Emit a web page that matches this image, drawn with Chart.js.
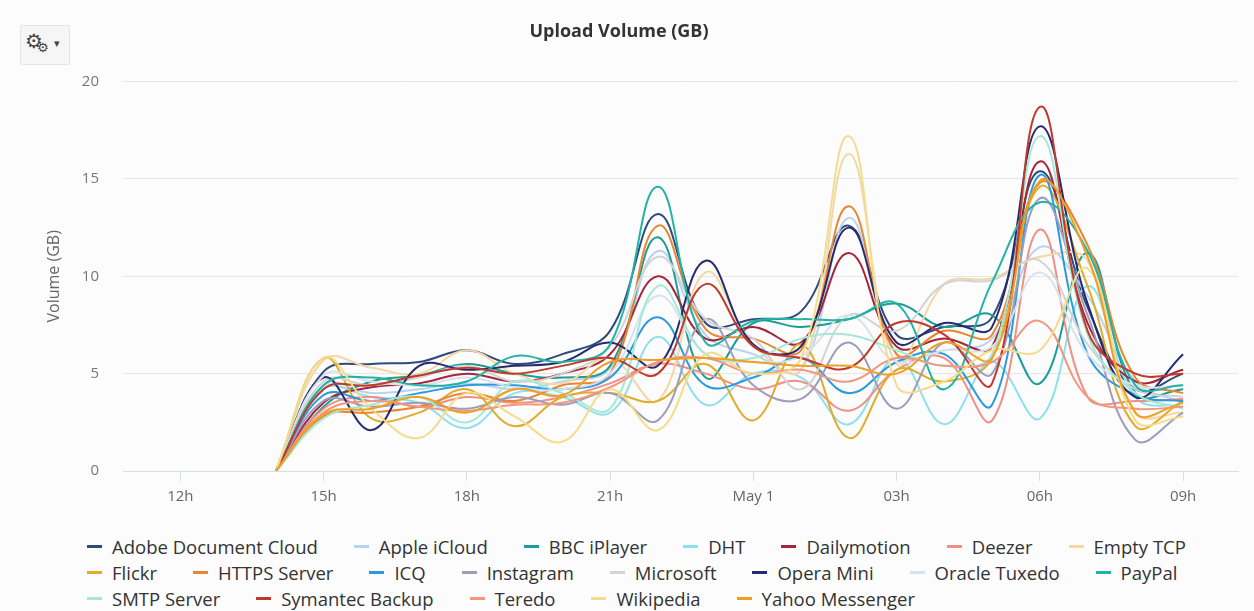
<!DOCTYPE html>
<html>
<head>
<meta charset="utf-8">
<title>Upload Volume (GB)</title>
<script src="https://cdn.jsdelivr.net/npm/chart.js@4.4.1/dist/chart.umd.min.js"></script>
<style>
  html, body { margin: 0; padding: 0; background: #fcfcfc; }
  #wrap { position: relative; width: 1254px; height: 611px; overflow: hidden; }
  #chartBox { position: absolute; left: 0; top: 0; width: 1254px; height: 513px; }
  #legend {
    position: absolute; left: 87px; top: 533px; width: 1165px;
    display: flex; flex-wrap: wrap;
    font-family: "Open Sans", sans-serif; font-size: 18.5px; color: #333;
  }
  #legend .item { display: flex; align-items: center; height: 26px; margin-right: 36px; white-space: nowrap; }
  #legend .dash { width: 15px; height: 3px; margin-right: 10px; }
  #opts {
    position: absolute; left: 20px; top: 25px; width: 48px; height: 38px;
    background: #f6f6f6; border: 1px solid #e4e4e4; border-radius: 2px;
    font-family: "DejaVu Sans", sans-serif; color: #444;
  }
  #opts .g1 { position: absolute; left: 4px; top: 3px; font-size: 20px; }
  #opts .g2 { position: absolute; left: 16px; top: 14px; font-size: 13px; }
  #opts .caret { position: absolute; left: 33px; top: 11px; font-size: 11px; }
</style>
</head>
<body>
<div id="wrap">
  <div id="chartBox"><canvas id="uploadChart"></canvas></div>
  <div id="opts"><span class="g1">⚙</span><span class="g2">⚙</span><span class="caret">▾</span></div>
  <div id="legend"></div>
</div>
<script>
// hours since midnight of Apr 30 (24 = May 1 00h)
const hours = [14, 15, 16, 17, 18, 19, 20, 21, 22, 23, 24, 25, 26, 27, 28, 29, 30, 31, 32, 33];
const tickHours = [12, 15, 18, 21, 24, 27, 30, 33];
const tickLabels = ['12h', '15h', '18h', '21h', 'May 1', '03h', '06h', '09h'];
const yTicks = [0, 5, 10, 15, 20];

const seriesNames = [
  'Adobe Document Cloud', 'Apple iCloud', 'BBC iPlayer', 'DHT', 'Dailymotion', 'Deezer', 'Empty TCP',
  'Flickr', 'HTTPS Server', 'ICQ', 'Instagram', 'Microsoft', 'Opera Mini', 'Oracle Tuxedo', 'PayPal',
  'SMTP Server', 'Symantec Backup', 'Teredo', 'Wikipedia', 'Yahoo Messenger'
];
const seriesColors = [
  '#2f4b7c', '#b9d3ee', '#1b9e94', '#8fe0ee', '#a3263a', '#ef8f85', '#f3d7a6',
  '#e3ab2a', '#ea8530', '#2b99de', '#9c9cbc', '#d3d3d3', '#262a6e', '#d9e2ec', '#22b3a4',
  '#a5e8d6', '#c0392b', '#f2967e', '#f5dc8d', '#eda024'
];

const adobeDocumentCloud = [0, 5.1, 5.5, 5.6, 6.2, 5.5, 6.0, 7.2, 13.2, 7.6, 7.8, 8.2, 12.6, 7.0, 7.4, 7.9, 15.4, 8.4, 4.2, 5.0];
const appleICloud        = [0, 4.4, 4.0, 4.2, 4.5, 4.2, 4.6, 5.3, 11.3, 7.0, 6.0, 5.2, 13.0, 6.0, 6.2, 6.8, 11.5, 9.0, 4.6, 3.5];
const bbcIPlayer         = [0, 3.3, 4.6, 4.9, 5.5, 5.0, 4.8, 5.4, 12.0, 4.8, 7.6, 7.4, 7.8, 8.6, 7.4, 8.0, 4.5, 11.2, 4.0, 4.2];
const dht                = [0, 4.2, 3.8, 3.5, 2.2, 4.0, 3.8, 3.0, 6.9, 3.4, 5.0, 4.8, 2.4, 5.8, 2.4, 5.6, 2.7, 9.5, 3.8, 3.3];
const dailymotion        = [0, 3.5, 4.3, 4.5, 5.0, 4.6, 5.0, 6.0, 10.0, 6.8, 7.4, 6.6, 11.2, 6.4, 6.8, 6.4, 15.9, 7.6, 4.6, 5.2];
const deezer             = [0, 3.2, 3.8, 3.3, 3.8, 3.5, 3.8, 4.5, 5.5, 5.0, 4.2, 4.6, 3.1, 5.2, 5.8, 2.6, 12.4, 3.8, 3.6, 3.7];
const emptyTcp           = [0, 5.7, 5.3, 5.0, 6.2, 5.0, 4.5, 5.8, 3.6, 10.2, 6.5, 5.2, 16.3, 5.5, 9.6, 9.9, 11.0, 10.8, 3.0, 3.0];
const flickr             = [0, 5.8, 2.7, 3.0, 4.2, 2.3, 3.8, 4.0, 3.6, 5.5, 2.6, 6.5, 1.7, 5.2, 4.6, 5.8, 14.6, 9.5, 2.3, 3.6];
const httpsServer        = [0, 2.8, 3.0, 3.3, 4.0, 3.6, 4.4, 5.0, 12.6, 7.3, 6.8, 6.2, 13.6, 6.0, 7.2, 7.0, 14.8, 11.6, 4.8, 4.0];
const icq                = [0, 3.9, 3.6, 4.0, 4.4, 4.4, 4.2, 4.8, 7.9, 4.4, 4.8, 5.8, 4.0, 5.6, 6.0, 3.4, 15.2, 6.0, 3.9, 3.6];
const instagram          = [0, 3.6, 3.3, 3.5, 3.2, 3.8, 3.4, 4.0, 2.6, 7.8, 4.4, 3.7, 6.6, 3.2, 6.6, 5.0, 14.0, 8.0, 1.6, 3.0];
const microsoft          = [0, 4.6, 4.4, 4.8, 5.4, 4.6, 5.0, 6.4, 11.0, 7.8, 6.8, 4.2, 8.0, 7.2, 9.6, 9.8, 10.8, 6.5, 4.2, 3.8];
const operaMini          = [0, 4.8, 2.1, 5.4, 5.2, 5.4, 5.6, 6.6, 5.4, 10.8, 6.5, 6.4, 12.5, 6.6, 7.6, 7.4, 17.7, 8.6, 3.8, 6.0];
const oracleTuxedo       = [0, 4.9, 4.6, 4.4, 4.8, 4.3, 4.2, 5.0, 9.0, 6.0, 5.6, 5.9, 8.0, 5.6, 6.2, 6.4, 10.2, 6.0, 4.4, 4.4];
const payPal             = [0, 4.4, 4.8, 4.4, 4.6, 5.9, 5.6, 6.5, 14.6, 6.6, 7.7, 7.8, 7.8, 8.6, 4.2, 9.7, 13.8, 11.3, 4.4, 4.4];
const smtpServer         = [0, 2.7, 3.4, 3.8, 2.5, 4.6, 4.0, 3.2, 9.5, 6.0, 5.8, 6.8, 7.0, 6.2, 5.4, 6.0, 17.2, 7.0, 4.0, 3.2];
const symantecBackup     = [0, 4.2, 4.4, 4.9, 5.3, 5.0, 5.4, 5.8, 5.0, 9.6, 6.4, 5.8, 5.3, 7.6, 7.0, 4.5, 18.7, 7.2, 5.0, 5.0];
const teredo             = [0, 3.0, 3.6, 3.3, 3.1, 3.4, 3.5, 4.3, 5.6, 5.8, 5.0, 5.2, 4.6, 5.8, 5.4, 5.6, 7.7, 3.8, 3.2, 3.3];
const wikipedia          = [0, 5.8, 3.2, 1.7, 4.0, 2.8, 1.5, 4.2, 2.1, 6.0, 5.0, 5.8, 17.2, 4.4, 4.6, 6.2, 6.2, 10.4, 2.6, 2.8];
const yahooMessenger     = [0, 2.9, 3.2, 3.8, 3.0, 4.2, 3.9, 5.6, 5.7, 5.8, 5.6, 5.4, 5.4, 5.0, 6.6, 5.8, 14.9, 11.0, 3.0, 3.5];

const seriesValues = [
  adobeDocumentCloud, appleICloud, bbcIPlayer, dht, dailymotion, deezer, emptyTcp,
  flickr, httpsServer, icq, instagram, microsoft, operaMini, oracleTuxedo, payPal,
  smtpServer, symantecBackup, teredo, wikipedia, yahooMessenger
];

const datasets = seriesNames.map((name, i) => ({
  label: name,
  data: seriesValues[i].map((v, j) => ({ x: hours[j], y: v })),
  borderColor: seriesColors[i],
  backgroundColor: seriesColors[i],
  borderWidth: 2,
  pointRadius: 0,
  tension: 0.4,
  fill: false,
  order: seriesNames.length - i   // later series drawn on top
}));

const ctx = document.getElementById('uploadChart').getContext('2d');
const uploadChart = new Chart(ctx, {
  type: 'line',
  data: { datasets: datasets },
  options: {
    responsive: true,
    maintainAspectRatio: false,
    animation: false,
    devicePixelRatio: 1,
    layout: { padding: { left: 0, right: 16, top: 0, bottom: 0 } },
    plugins: {
      legend: { display: false },
      tooltip: { enabled: false },
      title: {
        display: true,
        text: 'Upload Volume (GB)',
        color: '#333',
        font: { family: 'Open Sans', size: 18, weight: 'bold' },
        padding: { top: 21, bottom: 39 }
      }
    },
    scales: {
      x: {
        type: 'linear',
        min: 10.8,
        max: 34.15,
        afterBuildTicks: (scale) => { scale.ticks = tickHours.map(v => ({ value: v })); },
        ticks: {
          autoSkip: false,
          maxRotation: 0,
          padding: 7,
          color: '#666',
          font: { family: 'Open Sans', size: 15 },
          callback: (v) => tickLabels[tickHours.indexOf(v)]
        },
        grid: { drawOnChartArea: false, drawTicks: true, tickLength: 10, color: '#d8dde6' },
        border: { display: true, color: '#d8dde6', width: 1 }
      },
      y: {
        min: 0,
        max: 20,
        afterBuildTicks: (scale) => { scale.ticks = yTicks.map(v => ({ value: v })); },
        afterFit: (scale) => { scale.width = 123; },
        ticks: {
          padding: 24,
          color: '#777',
          font: { family: 'Open Sans', size: 15 }
        },
        grid: { color: '#e6e6e6', drawTicks: false },
        border: { display: false },
        title: {
          display: true,
          text: 'Volume (GB)',
          color: '#666',
          font: { family: 'Open Sans', size: 16 },
          padding: { top: 45, bottom: 0 }
        }
      }
    }
  }
});

// Legend built from the same name/colour lists
const legendEl = document.getElementById('legend');
seriesNames.forEach((name, i) => {
  const item = document.createElement('div');
  item.className = 'item';
  const dash = document.createElement('span');
  dash.className = 'dash';
  dash.style.background = seriesColors[i];
  const txt = document.createElement('span');
  txt.textContent = name;
  item.appendChild(dash);
  item.appendChild(txt);
  legendEl.appendChild(item);
});
</script>
</body>
</html>
